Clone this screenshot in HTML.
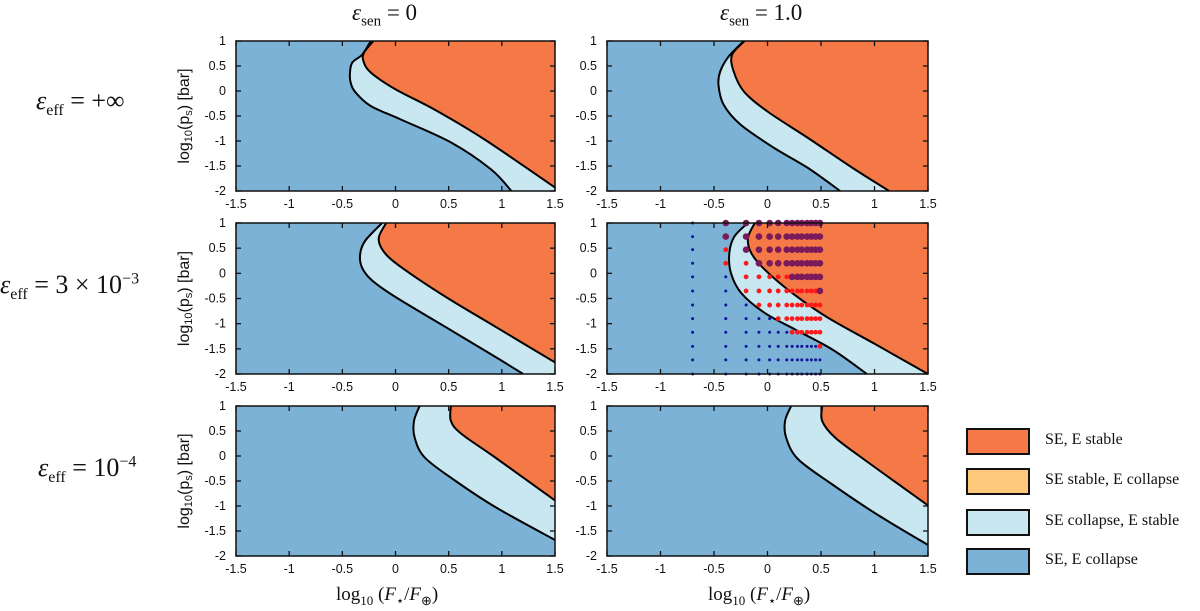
<!DOCTYPE html>
<html><head><meta charset="utf-8">
<style>
body{margin:0;background:#fff;width:1200px;height:611px;overflow:hidden;position:relative;font-family:"Liberation Sans",sans-serif}
.lbl{position:absolute;font-family:"Liberation Serif",serif;color:#111;white-space:nowrap}
.lbl i{font-style:italic}
.leg-box{position:absolute;left:966px;width:64px;height:27px;border:2px solid #111;box-sizing:border-box}
.leg-txt{position:absolute;left:1045px;font-family:"Liberation Serif",serif;font-size:16px;color:#111}
</style></head><body>
<div class="lbl" style="left:352px;top:0px;font-size:23px"><i>ε</i><sub style="font-size:15px">sen</sub> = 0</div>
<div class="lbl" style="left:720px;top:0px;font-size:23px"><i>ε</i><sub style="font-size:15px">sen</sub> = 1.0</div>
<div class="lbl" style="left:36px;top:86px;font-size:26px"><i>ε</i><sub style="font-size:16px">eff</sub> = +∞</div>
<div class="lbl" style="left:0px;top:270px;font-size:26px"><i>ε</i><sub style="font-size:16px">eff</sub> = 3 × 10<sup style="font-size:16px">−3</sup></div>
<div class="lbl" style="left:38px;top:453px;font-size:26px"><i>ε</i><sub style="font-size:16px">eff</sub> = 10<sup style="font-size:16px">−4</sup></div>
<div class="lbl" style="left:336px;top:584px;font-size:19px">log<sub style="font-size:13px">10</sub> (<i>F</i><sub style="font-size:13px">⋆</sub>/<i>F</i><sub style="font-size:13px">⊕</sub>)</div>
<div class="lbl" style="left:708px;top:584px;font-size:19px">log<sub style="font-size:13px">10</sub> (<i>F</i><sub style="font-size:13px">⋆</sub>/<i>F</i><sub style="font-size:13px">⊕</sub>)</div>

<div class="leg-box" style="top:428px;background:#f57847"></div>
<div class="leg-txt" style="top:431px">SE, E stable</div>
<div class="leg-box" style="top:468px;background:#fdc879"></div>
<div class="leg-txt" style="top:471px">SE stable, E collapse</div>
<div class="leg-box" style="top:509px;background:#c9e7f1"></div>
<div class="leg-txt" style="top:512px">SE collapse, E stable</div>
<div class="leg-box" style="top:548px;background:#7bb2d5"></div>
<div class="leg-txt" style="top:551px">SE, E collapse</div>

<svg id="chart" width="1200" height="611" style="position:absolute;left:0;top:0"></svg>
<script>
const xTicks=[-1.5,-1,-0.5,0,0.5,1,1.5];
const yTicks=[1,0.5,0,-0.5,-1,-1.5,-2];
const outerA=[[-0.233,1],[-0.312,0.73],[-0.406,0.57],[-0.428,0.37],[-0.422,0.17],[-0.375,-0.03],[-0.233,-0.3],[0.05,-0.57],[0.523,-1.03],[0.9,-1.57],[1.09,-2]];
const innerA=[[-0.208,1],[-0.296,0.77],[-0.302,0.6],[-0.233,0.37],[0.003,0.03],[0.366,-0.37],[0.838,-0.97],[1.5,-1.93]];
const outerB=[[-0.221,1],[-0.363,0.69],[-0.442,0.39],[-0.458,0.12],[-0.411,-0.27],[-0.253,-0.67],[0.063,-1.14],[0.379,-1.54],[0.679,-2]];
const innerB=[[-0.215,1],[-0.332,0.72],[-0.316,0.39],[-0.221,-0.01],[0.0,-0.41],[0.379,-0.94],[0.789,-1.53],[1.137,-2]];
const outerC=[[-0.126,1],[-0.284,0.65],[-0.332,0.39],[-0.316,0.12],[-0.221,-0.14],[0.0,-0.47],[0.474,-1.07],[0.947,-1.67],[1.2,-2]];
const innerC=[[-0.088,1],[-0.158,0.69],[-0.095,0.39],[0.095,0.06],[0.474,-0.47],[0.947,-1.07],[1.5,-1.77]];
const outerD=[[-0.183,1],[-0.31,0.73],[-0.357,0.4],[-0.341,0.0],[-0.246,-0.39],[-0.024,-0.79],[0.262,-1.12],[0.611,-1.52],[0.929,-2]];
const innerD=[[-0.119,1],[-0.183,0.7],[-0.151,0.4],[-0.024,0.07],[0.23,-0.39],[0.548,-0.86],[0.992,-1.39],[1.5,-2]];
const outerE=[[0.227,1],[0.174,0.7],[0.18,0.37],[0.275,-0.03],[0.559,-0.49],[0.938,-1.02],[1.5,-1.68]];
const innerE=[[0.521,1],[0.521,0.7],[0.622,0.44],[0.938,-0.03],[1.5,-0.89]];
const outerF=[[0.221,1],[0.164,0.7],[0.174,0.37],[0.284,-0.06],[0.6,-0.56],[1.01,-1.15],[1.5,-1.78]];
const innerF=[[0.511,1],[0.511,0.7],[0.631,0.37],[0.916,-0.09],[1.5,-0.99]];
const dotX=[-0.7,-0.39,-0.2,-0.08,0.02,0.1,0.18,0.23,0.28,0.32,0.37,0.41,0.45,0.49];
const dotY=[1,0.73,0.47,0.2,-0.07,-0.35,-0.63,-0.9,-1.17,-1.45,-1.72,-2];
const dotCat=[
"bpppppppppppppp",
"bpppppppppppppp",
"brpppppppppppp",
"brrppppppppppp",
"bbrrrrrppppppp",
"bbrrrrrrrrrrrp",
"bbbrrrrrrrrrrr",
"bbbbbrrrrrrrrr",
"bbbbbbbrrrrrrr",
"bbbbbbbbbbbbbr",
"bbbbbbbbbbbbbb",
"bbbbbbbbbbbbbb"];

const NS="http://www.w3.org/2000/svg";
const svg=document.getElementById('chart');
const COLS=[[236,555],[607,928]];
const ROWS=[[41,191],[223,374],[406,556]];
const panels=[
 {name:'panel-inf-sen0',c:0,r:0,o:outerA,i:innerA},
 {name:'panel-inf-sen1',c:1,r:0,o:outerB,i:innerB},
 {name:'panel-3e-3-sen0',c:0,r:1,o:outerC,i:innerC},
 {name:'panel-3e-3-sen1',c:1,r:1,o:outerD,i:innerD,dots:true},
 {name:'panel-1e-4-sen0',c:0,r:2,o:outerE,i:innerE},
 {name:'panel-1e-4-sen1',c:1,r:2,o:outerF,i:innerF}];
function mk(t,a){const e=document.createElementNS(NS,t);for(const k in a)e.setAttribute(k,a[k]);return e;}
function smooth(P){
 let d='M'+P[0][0]+','+P[0][1];
 for(let k=0;k<P.length-1;k++){
  const p0=P[k-1]||P[k],p1=P[k],p2=P[k+1],p3=P[k+2]||P[k+1];
  const c1=[p1[0]+(p2[0]-p0[0])/6,p1[1]+(p2[1]-p0[1])/6];
  const c2=[p2[0]-(p3[0]-p1[0])/6,p2[1]-(p3[1]-p1[1])/6];
  d+=' C'+c1[0]+','+c1[1]+' '+c2[0]+','+c2[1]+' '+p2[0]+','+p2[1];
 }
 return d;
}
panels.forEach((p,pi)=>{
 const [x0,x1]=COLS[p.c],[y0,y1]=ROWS[p.r];
 const sx=v=>x0+(v+1.5)/3*(x1-x0), sy=v=>y0+(1-v)/3*(y1-y0);
 const g=mk('g',{});
 
 
 svg.appendChild(g);
 const cid='clip'+pi;
 const cp=mk('clipPath',{id:cid});cp.appendChild(mk('rect',{x:x0,y:y0,width:x1-x0,height:y1-y0}));g.appendChild(cp);
 const bg=mk('rect',{x:x0,y:y0,width:x1-x0,height:y1-y0,fill:'#7bb2d5'});
 
 
 g.appendChild(bg);
 function region(curve,fill){
  const P=curve.map(q=>[sx(q[0]),sy(q[1])]);
  const last=curve[curve.length-1];
  let d=smooth(P);
  if(last[1]<=-2)d+=' L'+sx(1.6)+','+sy(-2.1);
  d+=' L'+sx(1.6)+','+sy(1.1)+' L'+P[0][0]+','+sy(1.1)+' Z';
  const el=mk('path',{d:d,fill:fill,'clip-path':'url(#'+cid+')'});
  g.appendChild(el);
  return el;
 }
 const r1=region(p.o,'#c9e7f1');
 
 
 const r2=region(p.i,'#f57847');
 
 
 [p.o,p.i].forEach((c,ci)=>{
  const l=mk('path',{d:smooth(c.map(q=>[sx(q[0]),sy(q[1])])),fill:'none',stroke:'#000','stroke-width':2,'stroke-linejoin':'round','clip-path':'url(#'+cid+')'});
  
  
  g.appendChild(l);
 });
 if(p.dots){
  dotCat.forEach((row,ri)=>{
   dotX.forEach((xv,xi)=>{
    const c=row[xi]||'b';
    const col=c==='p'?'#7a1a5a':c==='r'?'#ff1a1a':'#14149a';
    const rr=c==='p'?3.3:c==='r'?2.4:1.5;
    const d=mk('circle',{cx:sx(xv),cy:sy(dotY[ri]),r:rr,fill:col});
    
    
    g.appendChild(d);
   });
  });
 }
 const fr=mk('rect',{x:x0,y:y0,width:x1-x0,height:y1-y0,fill:'none',stroke:'#111','stroke-width':1.5});
 
 
 g.appendChild(fr);
 xTicks.forEach(v=>{
  const x=sx(v);
  g.appendChild(mk('line',{x1:x,x2:x,y1:y0,y2:y0+5,stroke:'#111','stroke-width':1.3}));
  g.appendChild(mk('line',{x1:x,x2:x,y1:y1,y2:y1-5,stroke:'#111','stroke-width':1.3}));
  const t=mk('text',{x:x,y:y1+17,'text-anchor':'middle','font-size':12.5,'font-family':'Liberation Sans, sans-serif',fill:'#111'});
  t.textContent=String(v);
  
  
  g.appendChild(t);
 });
 yTicks.forEach(v=>{
  const y=sy(v);
  g.appendChild(mk('line',{x1:x0,x2:x0+5,y1:y,y2:y,stroke:'#111','stroke-width':1.3}));
  g.appendChild(mk('line',{x1:x1,x2:x1-5,y1:y,y2:y,stroke:'#111','stroke-width':1.3}));
  const t=mk('text',{x:x0-10,y:y+4,'text-anchor':'end','font-size':12.5,'font-family':'Liberation Sans, sans-serif',fill:'#111'});
  t.textContent=String(v);
  
  
  g.appendChild(t);
 });
 if(p.c===0){
  const cy=(y0+y1)/2;
  const t=mk('text',{x:0,y:0,transform:'translate(189,'+cy+') rotate(-90)','text-anchor':'middle','font-size':16,'font-family':'Liberation Sans, sans-serif',fill:'#111'});
  t.innerHTML='log<tspan font-size="11" dy="3">10</tspan><tspan dy="-3">(p</tspan><tspan font-size="11" dy="3">s</tspan><tspan dy="-3">) [bar]</tspan>';
  
  
  g.appendChild(t);
 }
});
</script>
</body></html>
